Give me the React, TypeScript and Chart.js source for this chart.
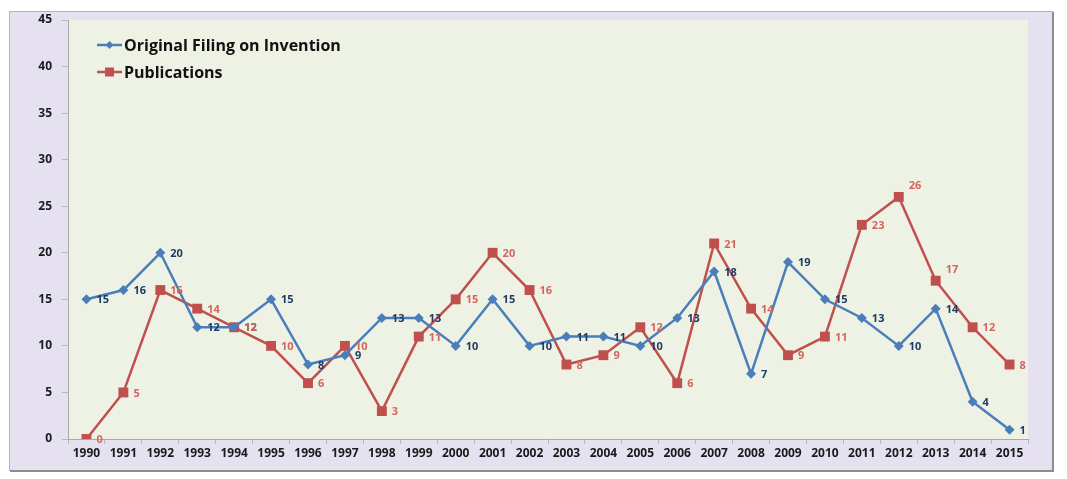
import React, { useEffect, useRef } from "react";
import { Chart, registerables } from "chart.js";

Chart.register(...registerables);

const years = [
  "1990", "1991", "1992", "1993", "1994", "1995", "1996", "1997", "1998", "1999",
  "2000", "2001", "2002", "2003", "2004", "2005", "2006", "2007", "2008", "2009",
  "2010", "2011", "2012", "2013", "2014", "2015",
];
const originalFiling = [15, 16, 20, 12, 12, 15, 8, 9, 13, 13, 10, 15, 10, 11, 11, 10, 13, 18, 7, 19, 15, 13, 10, 14, 4, 1];
const publications = [0, 5, 16, 14, 12, 10, 6, 10, 3, 11, 15, 20, 16, 8, 9, 12, 6, 21, 14, 9, 11, 23, 26, 17, 12, 8];
const seriesNames = ["Original Filing on Invention", "Publications"];

const BLUE = "#4a7ebb";
const RED = "#c0504d";
const BLUE_LABEL = "#1f3b63";
const RED_LABEL = "#d2665f";
const FONT = "'Open Sans', 'DejaVu Sans', sans-serif";
const labelAboveRed = new Set([22, 23]);

const framePlugin = {
  id: "frame",
  beforeDraw(chart: any) {
    const { ctx, chartArea } = chart;
    ctx.save();
    ctx.fillStyle = "#ffffff";
    ctx.fillRect(0, 0, chart.width, chart.height);
    ctx.fillStyle = "#e5e1f0";
    ctx.fillRect(9, 11, 1043, 459);
    ctx.strokeStyle = "#b4b4b4";
    ctx.lineWidth = 1;
    ctx.strokeRect(9.5, 11.5, 1043, 459);
    ctx.strokeStyle = "#8c8c8c";
    ctx.lineWidth = 2;
    ctx.beginPath();
    ctx.moveTo(1053, 12);
    ctx.lineTo(1053, 471);
    ctx.lineTo(10, 471);
    ctx.stroke();
    ctx.fillStyle = "#eef2e5";
    ctx.fillRect(chartArea.left, chartArea.top, chartArea.right - chartArea.left, chartArea.bottom - chartArea.top);
    ctx.restore();
  },
};

const labelsPlugin = {
  id: "valueLabels",
  afterDatasetsDraw(chart: any) {
    const { ctx } = chart;
    ctx.save();
    ctx.font = `bold 11px ${FONT}`;
    ctx.textBaseline = "middle";
    ctx.textAlign = "left";
    chart.data.datasets.forEach((ds: any, di: number) => {
      const meta = chart.getDatasetMeta(di);
      ctx.fillStyle = di === 0 ? BLUE_LABEL : RED_LABEL;
      meta.data.forEach((pt: any, i: number) => {
        const v = ds.data[i];
        const x = pt.x + 10;
        let y = pt.y + 1;
        if (di === 1 && labelAboveRed.has(i)) {
          y = pt.y - 11;
        }
        ctx.fillText(String(v), x, y);
      });
    });
    ctx.restore();
  },
};

const legendPlugin = {
  id: "innerLegend",
  afterDraw(chart: any) {
    const { ctx, chartArea } = chart;
    ctx.save();
    const x0 = chartArea.left + 29;
    const rows = [chartArea.top + 25, chartArea.top + 52];
    const colors = [BLUE, RED];
    rows.forEach((y, i) => {
      ctx.strokeStyle = colors[i];
      ctx.lineWidth = 2.5;
      ctx.beginPath();
      ctx.moveTo(x0, y);
      ctx.lineTo(x0 + 25, y);
      ctx.stroke();
      ctx.fillStyle = colors[i];
      if (i === 0) {
        ctx.beginPath();
        ctx.moveTo(x0 + 12.5, y - 4);
        ctx.lineTo(x0 + 16.5, y);
        ctx.lineTo(x0 + 12.5, y + 4);
        ctx.lineTo(x0 + 8.5, y);
        ctx.closePath();
        ctx.fill();
      } else {
        ctx.fillRect(x0 + 8, y - 4.5, 9, 9);
      }
      ctx.fillStyle = "#111111";
      ctx.font = `bold 16px ${FONT}`;
      ctx.textBaseline = "middle";
      ctx.textAlign = "left";
      ctx.fillText(seriesNames[i], x0 + 27, y + 1);
    });
    ctx.restore();
  },
};

export default function App() {
  const canvasRef = useRef<HTMLCanvasElement | null>(null);

  useEffect(() => {
    if (!canvasRef.current) return;
    const chart = new Chart(canvasRef.current, {
      type: "line",
      data: {
        labels: years,
        datasets: [
          {
            label: seriesNames[0],
            data: originalFiling,
            borderColor: BLUE,
            backgroundColor: BLUE,
            borderWidth: 2.5,
            pointStyle: "rectRot",
            pointRadius: 5,
            pointBorderWidth: 0,
            tension: 0,
          },
          {
            label: seriesNames[1],
            data: publications,
            borderColor: RED,
            backgroundColor: RED,
            borderWidth: 2.5,
            pointStyle: "rect",
            pointRadius: 7,
            pointBorderWidth: 0,
            tension: 0,
          },
        ],
      },
      options: {
        responsive: false,
        animation: false,
        layout: { padding: { left: 20, right: 39, top: 20, bottom: 10 } },
        plugins: {
          legend: { display: false },
          tooltip: { enabled: false },
        },
        scales: {
          x: {
            offset: true,
            grid: {
              offset: true,
              drawOnChartArea: false,
              drawTicks: true,
              tickLength: 5,
              color: "#b8b8b8",
            },
            border: { color: "#a8a8a8", width: 1 },
            ticks: {
              color: "#1a1a1a",
              font: { family: FONT, size: 12, weight: "bold" },
              padding: 2,
              maxRotation: 0,
              autoSkip: false,
            },
            afterFit(scale: any) {
              scale.height = 30;
            },
          },
          y: {
            min: 0,
            max: 45,
            ticks: {
              stepSize: 5,
              color: "#1a1a1a",
              font: { family: FONT, size: 12, weight: "bold" },
              padding: 10,
            },
            grid: {
              drawOnChartArea: false,
              drawTicks: true,
              tickLength: 6,
              color: "#b8b8b8",
            },
            border: { color: "#a8a8a8", width: 1 },
            afterFit(scale: any) {
              scale.width = 48;
            },
          },
        },
      },
      plugins: [framePlugin, labelsPlugin, legendPlugin],
    });
    return () => chart.destroy();
  }, []);

  return (
    <div style={{ position: "fixed", left: 0, top: 0, width: 1067, height: 479 }}>
      <canvas ref={canvasRef} width={1067} height={479} style={{ width: 1067, height: 479, display: "block" }} />
    </div>
  );
}
